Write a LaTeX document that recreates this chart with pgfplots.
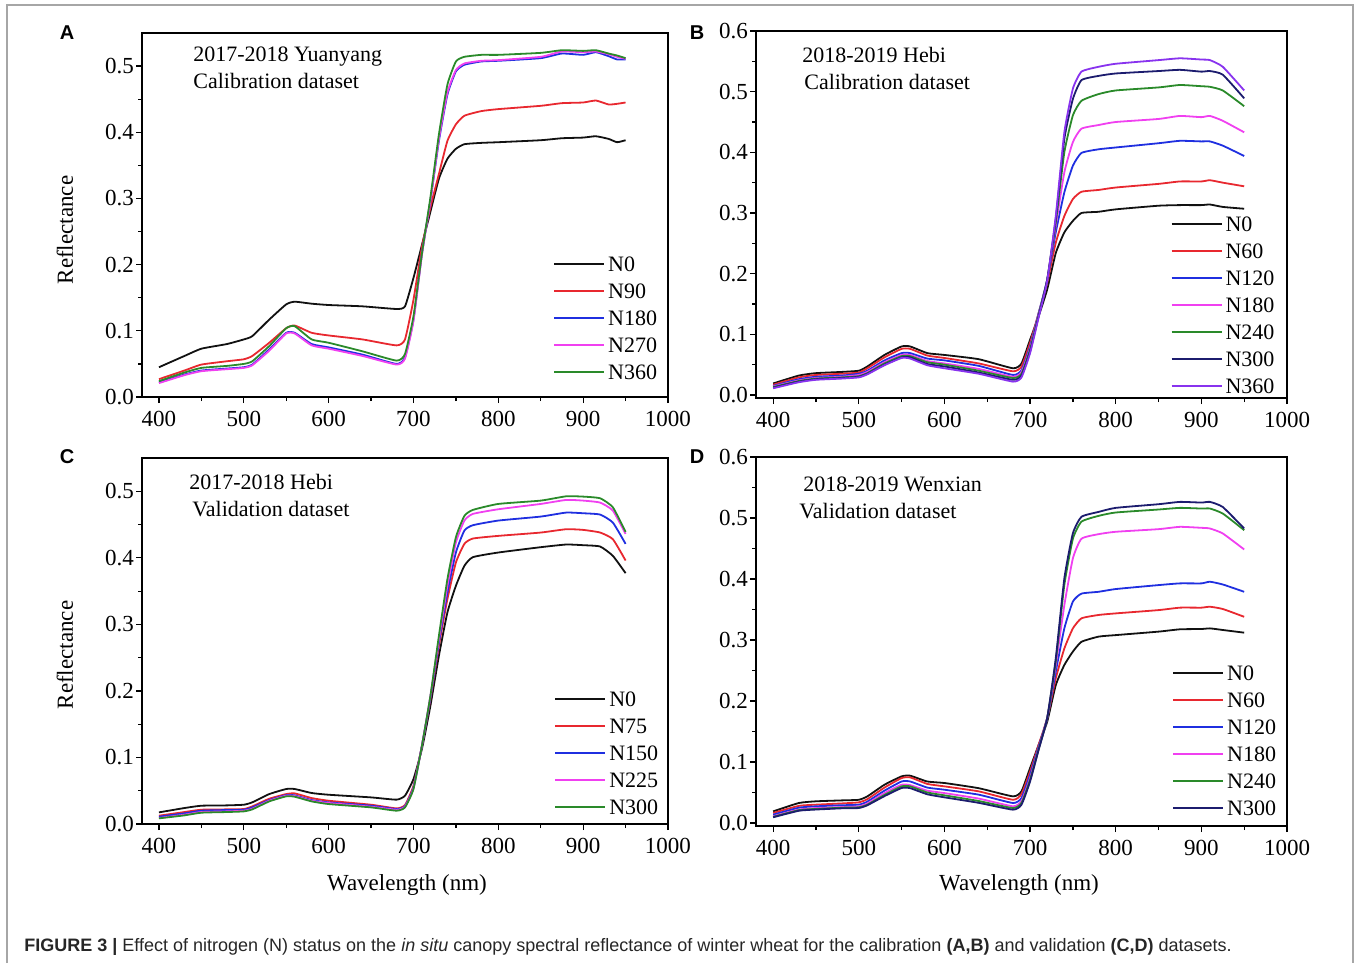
\documentclass[border=0pt]{standalone}
\usepackage{pgfplots}
\usepackage{pgfplotstable}
\pgfplotsset{compat=1.18}
\usepackage{fontspec}
\setmainfont{Liberation Serif}
\newfontfamily\capfont{Liberation Sans}

\definecolor{cN0}{HTML}{111111}
\definecolor{cRed}{HTML}{E8282F}
\definecolor{cBlue}{HTML}{1F2FE0}
\definecolor{cMag}{HTML}{F040F0}
\definecolor{cGreen}{HTML}{2A8A2A}
\definecolor{cNavy}{HTML}{1C1C6E}
\definecolor{cPurple}{HTML}{8833EE}

% panel A: 2017-2018 Yuanyang
\pgfplotstableread{
wl  n0    n90   n180  n270  n360
400 0.045 0.027 0.022 0.021 0.024
430 0.062 0.040 0.034 0.033 0.037
450 0.073 0.049 0.040 0.039 0.044
480 0.080 0.054 0.043 0.042 0.047
500 0.087 0.057 0.045 0.044 0.050
510 0.092 0.062 0.049 0.048 0.054
530 0.117 0.082 0.072 0.070 0.077
550 0.140 0.104 0.097 0.096 0.104
560 0.144 0.108 0.097 0.096 0.107
580 0.141 0.097 0.080 0.078 0.087
600 0.139 0.093 0.075 0.073 0.082
640 0.137 0.087 0.064 0.062 0.069
680 0.133 0.078 0.050 0.049 0.055
690 0.137 0.087 0.060 0.058 0.065
700 0.180 0.147 0.117 0.115 0.122
710 0.230 0.227 0.217 0.215 0.217
720 0.280 0.287 0.297 0.297 0.302
730 0.330 0.337 0.387 0.390 0.397
740 0.360 0.387 0.457 0.460 0.472
750 0.375 0.412 0.492 0.494 0.507
760 0.382 0.425 0.502 0.504 0.514
780 0.384 0.432 0.507 0.508 0.517
800 0.385 0.435 0.508 0.509 0.517
850 0.388 0.440 0.512 0.514 0.520
875 0.391 0.444 0.519 0.522 0.524
900 0.392 0.445 0.517 0.521 0.523
915 0.394 0.448 0.521 0.522 0.524
930 0.390 0.442 0.515 0.518 0.519
940 0.385 0.443 0.510 0.514 0.516
950 0.388 0.445 0.510 0.511 0.512
}\dataA

% panel B: 2018-2019 Hebi
\pgfplotstableread{
wl  n0    n60   n120  n180  n240  n300  n360
400 0.019 0.017 0.015 0.014 0.013 0.012 0.011
430 0.032 0.029 0.026 0.024 0.023 0.022 0.021
450 0.036 0.033 0.030 0.028 0.027 0.026 0.025
480 0.038 0.035 0.032 0.030 0.029 0.028 0.027
500 0.040 0.037 0.035 0.033 0.031 0.030 0.029
510 0.047 0.044 0.040 0.038 0.036 0.035 0.034
530 0.066 0.062 0.057 0.054 0.052 0.050 0.049
550 0.080 0.076 0.069 0.066 0.064 0.062 0.061
560 0.080 0.076 0.069 0.066 0.064 0.062 0.060
580 0.069 0.065 0.060 0.056 0.054 0.051 0.049
600 0.066 0.061 0.057 0.052 0.050 0.047 0.044
640 0.059 0.052 0.048 0.043 0.040 0.037 0.035
680 0.044 0.039 0.033 0.030 0.028 0.025 0.022
690 0.052 0.047 0.041 0.038 0.035 0.032 0.029
700 0.091 0.086 0.080 0.077 0.075 0.072 0.069
710 0.130 0.135 0.135 0.133 0.132 0.130 0.128
720 0.174 0.185 0.190 0.190 0.190 0.190 0.188
730 0.234 0.251 0.268 0.279 0.284 0.290 0.295
740 0.268 0.295 0.334 0.367 0.400 0.422 0.433
750 0.287 0.323 0.378 0.417 0.461 0.488 0.505
760 0.300 0.335 0.399 0.439 0.485 0.519 0.533
780 0.302 0.338 0.405 0.445 0.496 0.526 0.541
800 0.306 0.342 0.408 0.450 0.502 0.530 0.546
850 0.312 0.348 0.415 0.455 0.507 0.534 0.552
875 0.313 0.352 0.419 0.460 0.511 0.536 0.555
900 0.313 0.352 0.418 0.458 0.509 0.533 0.553
910 0.314 0.354 0.418 0.460 0.508 0.534 0.552
925 0.310 0.350 0.411 0.452 0.502 0.528 0.541
950 0.307 0.344 0.394 0.433 0.476 0.489 0.502
}\dataB

% panel C: 2017-2018 Hebi
\pgfplotstableread{
wl  n0     n75    n150   n225   n300
400 0.0175 0.0125 0.0110 0.0090 0.0085
430 0.0240 0.0180 0.0160 0.0140 0.0130
450 0.0275 0.0215 0.0200 0.0180 0.0170
480 0.0280 0.0220 0.0210 0.0190 0.0180
500 0.0290 0.0225 0.0215 0.0200 0.0190
510 0.0326 0.0265 0.0250 0.0230 0.0220
530 0.0450 0.0380 0.0360 0.0350 0.0340
550 0.0526 0.0450 0.0435 0.0426 0.0416
560 0.0526 0.0460 0.0430 0.0420 0.0410
580 0.0466 0.0390 0.0360 0.0350 0.0340
600 0.0440 0.0350 0.0325 0.0316 0.0300
650 0.0400 0.0290 0.0275 0.0260 0.0250
680 0.0366 0.0235 0.0225 0.0215 0.0200
690 0.0426 0.0285 0.0270 0.0260 0.0250
700 0.0676 0.0576 0.0550 0.0536 0.0526
710 0.1130 0.1180 0.1180 0.1180 0.1180
720 0.1780 0.1880 0.1900 0.1930 0.1930
730 0.2530 0.2680 0.2730 0.2780 0.2830
740 0.3180 0.3380 0.3480 0.3580 0.3680
750 0.3580 0.3930 0.4080 0.4230 0.4310
760 0.3880 0.4210 0.4410 0.4560 0.4630
770 0.4010 0.4290 0.4490 0.4660 0.4720
800 0.4080 0.4330 0.4560 0.4730 0.4810
850 0.4160 0.4380 0.4620 0.4810 0.4860
880 0.4200 0.4430 0.4680 0.4870 0.4925
900 0.4190 0.4420 0.4670 0.4860 0.4920
920 0.4170 0.4380 0.4650 0.4830 0.4895
935 0.4030 0.4280 0.4530 0.4710 0.4760
950 0.3770 0.3960 0.4210 0.4360 0.4390
}\dataC

% panel D: 2018-2019 Wenxian
\pgfplotstableread{
wl  n0     n60    n120   n180   n240   n300
400 0.0190 0.0164 0.0136 0.0110 0.0100 0.0093
430 0.0327 0.0280 0.0250 0.0220 0.0210 0.0200
450 0.0355 0.0300 0.0273 0.0245 0.0230 0.0220
480 0.0370 0.0320 0.0290 0.0260 0.0250 0.0240
500 0.0380 0.0338 0.0300 0.0273 0.0257 0.0245
510 0.0436 0.0390 0.0350 0.0320 0.0300 0.0290
530 0.0627 0.0580 0.0530 0.0490 0.0460 0.0440
550 0.0764 0.0736 0.0680 0.0627 0.0600 0.0573
560 0.0775 0.0747 0.0680 0.0620 0.0600 0.0570
580 0.0680 0.0640 0.0580 0.0530 0.0500 0.0470
600 0.0655 0.0600 0.0545 0.0490 0.0453 0.0420
640 0.0570 0.0518 0.0464 0.0400 0.0360 0.0330
680 0.0436 0.0380 0.0327 0.0273 0.0245 0.0218
690 0.0520 0.0475 0.0410 0.0360 0.0330 0.0300
700 0.0900 0.0845 0.0790 0.0736 0.0709 0.0680
710 0.1280 0.1280 0.1250 0.1220 0.1210 0.1200
720 0.1660 0.1720 0.1720 0.1720 0.1720 0.1720
730 0.2260 0.2370 0.2480 0.2590 0.2650 0.2700
740 0.2590 0.2860 0.3190 0.3570 0.3900 0.4010
750 0.2810 0.3190 0.3630 0.4340 0.4660 0.4750
760 0.2970 0.3355 0.3760 0.4660 0.4940 0.5020
780 0.3055 0.3410 0.3790 0.4735 0.5035 0.5100
800 0.3080 0.3436 0.3835 0.4774 0.5090 0.5166
850 0.3137 0.3490 0.3900 0.4817 0.5139 0.5226
875 0.3175 0.3530 0.3928 0.4855 0.5166 0.5264
900 0.3180 0.3530 0.3928 0.4839 0.5155 0.5253
910 0.3190 0.3545 0.3955 0.4828 0.5155 0.5264
925 0.3164 0.3508 0.3910 0.4746 0.5073 0.5180
950 0.3120 0.3380 0.3790 0.4484 0.4800 0.4828
}\dataD

\pgfplotsset{
  panel/.style={
    scale only axis, anchor=south west,
    xmin=380, xmax=1000, xtick={400,500,600,700,800,900,1000},
    minor x tick num=1, minor y tick num=1,
    tick align=outside, tick pos=left,
    major tick length=3pt, minor tick length=2pt,
    axis line style={black, line width=0.7pt},
    every tick/.style={black, line width=0.6pt},
    tick label style={font=\fontsize{11.5}{13}\selectfont},
    x tick label style={yshift=-0.5pt},
    y tick label style={xshift=2.5pt},
    /pgf/number format/assume math mode=true,
    /pgf/number format/1000 sep={},
    y tick label style={/pgf/number format/.cd, fixed, fixed zerofill, precision=1, /tikz/.cd},
    legend cell align=left,
    legend style={anchor=north west, draw=none, fill=none, inner sep=0pt,
      row sep=5.5pt, font=\fontsize{11}{13}\selectfont,
      nodes={inner sep=0pt, text height=8pt, text depth=0pt},
      /tikz/every odd column/.append style={column sep=1.5pt}},
    legend image code/.code={\draw[##1, line width=1pt] (0pt,-0.3pt) -- (25pt,-0.3pt);},
    every axis plot/.append style={line width=0.9pt, mark=none, smooth, tension=0.3},
  }
}

\begin{document}
\begin{tikzpicture}
\useasboundingbox (0pt,0pt) rectangle (679pt,-481.5pt);
\draw[gray!70, line width=0.6pt] (3.5pt,-481.5pt) -- (3.5pt,-2.5pt) -- (676.5pt,-2.5pt) -- (676.5pt,-481.5pt);

% A
\begin{axis}[panel, at={(71pt,-198.5pt)}, width=263pt, height=182pt,
  ymin=0, ymax=0.55, ytick={0,0.1,0.2,0.3,0.4,0.5},
  legend style={at={(0.781,0.39)}}]
\addplot[cN0] table[x=wl,y=n0]{\dataA};
\addplot[cRed] table[x=wl,y=n90]{\dataA};
\addplot[cBlue] table[x=wl,y=n180]{\dataA};
\addplot[cMag] table[x=wl,y=n270]{\dataA};
\addplot[cGreen] table[x=wl,y=n360]{\dataA};
\legend{N0,N90,N180,N270,N360}
\end{axis}

% B
\begin{axis}[panel, at={(378pt,-199pt)}, width=265.5pt, height=183.5pt,
  ymin=-0.005, ymax=0.6, ytick={0,0.1,0.2,0.3,0.4,0.5,0.6},
  legend style={at={(0.78,0.4975)}}]
\addplot[cN0] table[x=wl,y=n0]{\dataB};
\addplot[cRed] table[x=wl,y=n60]{\dataB};
\addplot[cBlue] table[x=wl,y=n120]{\dataB};
\addplot[cMag] table[x=wl,y=n180]{\dataB};
\addplot[cGreen] table[x=wl,y=n240]{\dataB};
\addplot[cNavy] table[x=wl,y=n300]{\dataB};
\addplot[cPurple] table[x=wl,y=n360]{\dataB};
\legend{N0,N60,N120,N180,N240,N300,N360}
\end{axis}

% C
\begin{axis}[panel, at={(71pt,-412pt)}, width=263pt, height=183pt,
  ymin=0, ymax=0.55, ytick={0,0.1,0.2,0.3,0.4,0.5},
  legend style={at={(0.783,0.365)}}]
\addplot[cN0] table[x=wl,y=n0]{\dataC};
\addplot[cRed] table[x=wl,y=n75]{\dataC};
\addplot[cBlue] table[x=wl,y=n150]{\dataC};
\addplot[cMag] table[x=wl,y=n225]{\dataC};
\addplot[cGreen] table[x=wl,y=n300]{\dataC};
\legend{N0,N75,N150,N225,N300}
\end{axis}

% D
\begin{axis}[panel, at={(378pt,-413pt)}, width=265.5pt, height=184.5pt,
  ymin=-0.005, ymax=0.6, ytick={0,0.1,0.2,0.3,0.4,0.5,0.6},
  legend style={at={(0.783,0.438)}}]
\addplot[cN0] table[x=wl,y=n0]{\dataD};
\addplot[cRed] table[x=wl,y=n60]{\dataD};
\addplot[cBlue] table[x=wl,y=n120]{\dataD};
\addplot[cMag] table[x=wl,y=n180]{\dataD};
\addplot[cGreen] table[x=wl,y=n240]{\dataD};
\addplot[cNavy] table[x=wl,y=n300]{\dataD};
\legend{N0,N60,N120,N180,N240,N300}
\end{axis}

% in-plot notes
\begin{scope}[every node/.style={anchor=base west, inner sep=0pt, font=\fontsize{11}{13}\selectfont}]
\node at (96.5pt,-31pt) {2017-2018 Yuanyang};
\node at (96.5pt,-44.5pt) {Calibration dataset};
\node at (401pt,-31.5pt) {2018-2019 Hebi};
\node at (402pt,-45pt) {Calibration dataset};
\node at (94.5pt,-244.5pt) {2017-2018 Hebi};
\node at (96pt,-258pt) {Validation dataset};
\node at (401.5pt,-245.5pt) {2018-2019 Wenxian};
\node at (399.5pt,-259pt) {Validation dataset};
\end{scope}

% axis titles
\node[rotate=90, font=\fontsize{11.5}{13}\selectfont] at (32.5pt,-115pt) {Reflectance};
\node[rotate=90, font=\fontsize{11.5}{13}\selectfont] at (32.5pt,-327.5pt) {Reflectance};
\node[font=\fontsize{11.5}{13}\selectfont] at (203.5pt,-442.5pt) {Wavelength (nm)};
\node[font=\fontsize{11.5}{13}\selectfont] at (509.5pt,-442.5pt) {Wavelength (nm)};

% panel letters
\begin{scope}[every node/.style={font=\capfont\bfseries\fontsize{10}{12}\selectfont, inner sep=0pt}]
\node at (33.5pt,-16.5pt) {A};
\node at (348.5pt,-16.5pt) {B};
\node at (33.5pt,-228.5pt) {C};
\node at (348.5pt,-228.5pt) {D};
\end{scope}

% caption
\node[anchor=base west, inner sep=0pt, font=\capfont\fontsize{9}{11}\selectfont, text=black!85] at (12pt,-475.5pt)
  {\textbf{FIGURE 3 |} Effect of nitrogen (N) status on the \textit{in situ} canopy spectral reflectance of winter wheat for the calibration \textbf{(A,B)} and validation \textbf{(C,D)} datasets.};
\end{tikzpicture}
\end{document}
